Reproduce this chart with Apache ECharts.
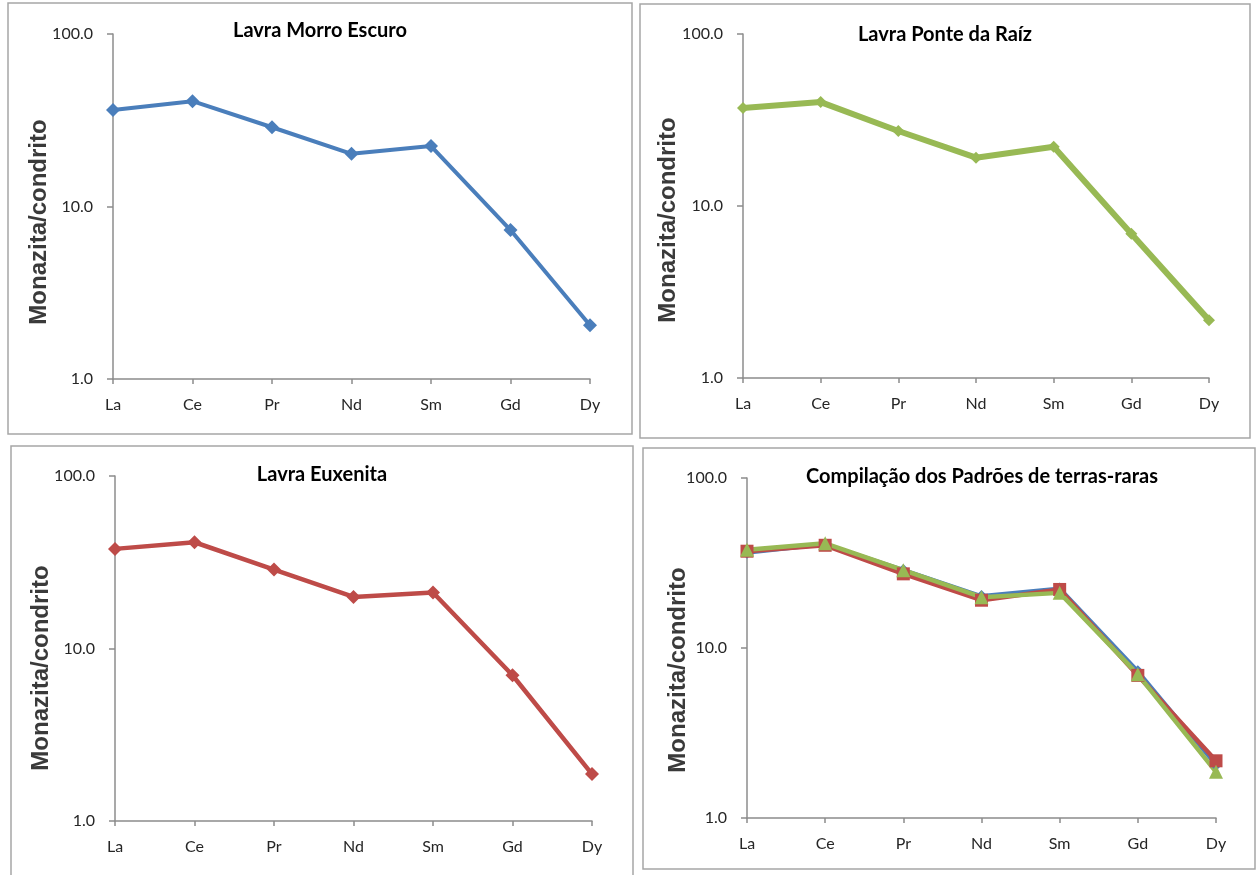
<!DOCTYPE html>
<html>
<head>
<meta charset="utf-8">
<script src="https://cdn.jsdelivr.net/npm/echarts@6/dist/echarts.min.js"></script>
<style>
  html, body { margin: 0; padding: 0; background: #ffffff; }
  #chart { width: 1256px; height: 875px; }
</style>
</head>
<body>
<div id="chart"></div>
<script>
// Chondrite-normalised REE patterns of monazite (log scale)
const categories = ['La', 'Ce', 'Pr', 'Nd', 'Sm', 'Gd', 'Dy'];
const morroEscuro = [36.3, 40.8, 28.8, 20.2, 22.4, 7.3, 2.05];
const ponteDaRaiz = [37.1, 40.2, 27.3, 19.1, 22.1, 6.9, 2.17];
const euxenita = [37.8, 41.3, 28.7, 19.9, 21.1, 7.0, 1.87];
const yTicks = [1, 10, 100];

const panelTitles = [
  'Lavra Morro Escuro',
  'Lavra Ponte da Raíz',
  'Lavra Euxenita',
  'Compilação dos Padrões de terras-raras'
];
const yName = 'Monazita/condrito';

const BLUE = '#4a7ebb', RED = '#be4b48', GREEN = '#98b954';
const AXIS = '#8c8c8c';
const TICK_FONT = 'Lato, "Open Sans", sans-serif';

// plot areas (px) and decoration positions for the 2x2 layout
const panels = [
  { grid: { left: 113, top: 34, width: 477, height: 345 }, box: [8, 3, 624, 431],   title: [320, 31],  name: [39, 222] },
  { grid: { left: 743, top: 34, width: 466, height: 344 }, box: [640, 4, 610, 434],  title: [945, 35],  name: [668, 220] },
  { grid: { left: 115, top: 476, width: 477, height: 345 }, box: [11, 446, 622, 440], title: [322, 475], name: [41, 668] },
  { grid: { left: 747, top: 478, width: 469, height: 340 }, box: [643, 448, 612, 421], title: [982, 477], name: [678, 670] }
];

const chart = echarts.init(document.getElementById('chart'), null, { renderer: 'canvas' });

const grids = [], xAxes = [], yAxes = [], graphics = [];
panels.forEach((p, i) => {
  grids.push(Object.assign({ containLabel: false }, p.grid));
  xAxes.push({
    type: 'category', gridIndex: i, data: categories, boundaryGap: false,
    axisLine: { lineStyle: { color: AXIS, width: 1.5 } },
    axisTick: { show: true, length: 5, lineStyle: { color: AXIS, width: 1.5 } },
    axisLabel: { color: '#262626', fontFamily: TICK_FONT, fontSize: 16, margin: 18 },
    splitLine: { show: false }
  });
  yAxes.push({
    type: 'log', gridIndex: i, logBase: 10, min: yTicks[0], max: yTicks[yTicks.length - 1],
    axisLine: { show: true, lineStyle: { color: AXIS, width: 1.5 } },
    axisTick: { show: true, length: 6, lineStyle: { color: AXIS, width: 1.5 } },
    minorTick: { show: false },
    axisLabel: { color: '#262626', fontFamily: TICK_FONT, fontSize: 16, margin: 20,
      formatter: v => Number(v).toFixed(1) },
    splitLine: { show: false }
  });
  graphics.push({
    type: 'rect', silent: true, z: -10,
    shape: { x: p.box[0], y: p.box[1], width: p.box[2], height: p.box[3] },
    style: { fill: 'none', stroke: '#a6a6a6', lineWidth: 1.5 }
  });
  graphics.push({
    type: 'text', silent: true,
    x: p.title[0], y: p.title[1],
    style: { text: panelTitles[i], fill: '#000', font: 'bold 20px Lato, sans-serif',
      textAlign: 'center', textVerticalAlign: 'middle' }
  });
  graphics.push({
    type: 'text', silent: true,
    x: p.name[0], y: p.name[1], rotation: Math.PI / 2,
    style: { text: yName, fill: '#3a3a3a', font: 'bold 24px "Liberation Sans", Arial, sans-serif',
      textAlign: 'center', textVerticalAlign: 'middle' }
  });
});

function lineSeries(idx, data, color, width, symbol, size) {
  return {
    type: 'line', xAxisIndex: idx, yAxisIndex: idx, data: data,
    symbol: symbol, symbolSize: size, showSymbol: true,
    lineStyle: { color: color, width: width },
    itemStyle: { color: color, borderWidth: 0 },
    emphasis: { disabled: true }, animation: false
  };
}

chart.setOption({
  animation: false,
  backgroundColor: '#ffffff',
  grid: grids,
  xAxis: xAxes,
  yAxis: yAxes,
  graphic: graphics,
  series: [
    lineSeries(0, morroEscuro, BLUE, 4, 'diamond', 14),
    lineSeries(1, ponteDaRaiz, GREEN, 6, 'diamond', 12),
    lineSeries(2, euxenita, RED, 4.5, 'diamond', 14),
    lineSeries(3, morroEscuro, BLUE, 4, 'diamond', 12),
    lineSeries(3, ponteDaRaiz, RED, 4.5, 'rect', 13),
    lineSeries(3, euxenita, GREEN, 4.5, 'triangle', 14)
  ]
});
</script>
</body>
</html>
